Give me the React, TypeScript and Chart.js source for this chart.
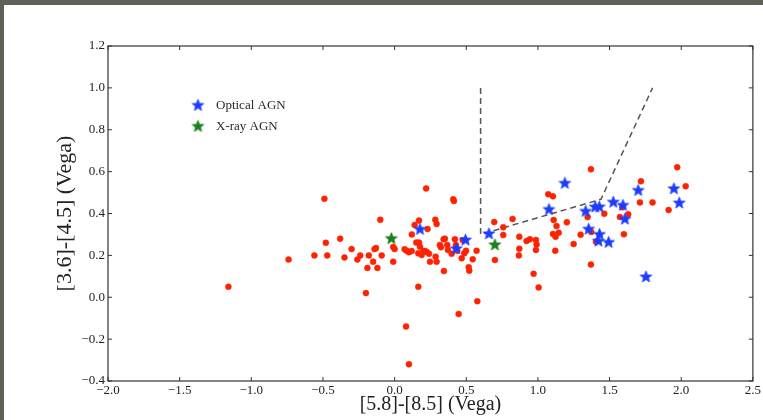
import { useEffect, useRef } from "react";
import { Chart, registerables } from "chart.js";

Chart.register(...registerables);

// ---- data ----
const redX = [
  -1.16, -0.74, -0.56, -0.49, -0.48, -0.47, -0.38, -0.35, -0.30, -0.26, -0.24, -0.20, -0.19, -0.18, -0.15,
  -0.14, -0.13, -0.12, -0.10, -0.09, -0.01, 0.00, -0.01, 0.08, 0.10, 0.22, 0.14, 0.17, 0.23, 0.12,
  0.07, 0.084, 0.10, 0.119, 0.151, 0.17, 0.177, 0.165, 0.189, 0.20, 0.212, 0.224, 0.24, 0.247, 0.284,
  0.293, 0.286, 0.293, 0.316, 0.323, 0.342, 0.351, 0.344, 0.367, 0.372, 0.398, 0.409, 0.414, 0.421, 0.428,
  0.437, 0.468, 0.475, 0.486, 0.498, 0.517, 0.521, 0.545, 0.572, 0.577, 0.447, 0.165, 0.695, 0.758, 0.758,
  0.70, 0.823, 0.87, 0.87, 0.867, 0.921, 0.944, 0.986, 0.991, 0.986, 0.97, 1.005, 1.072, 1.105, 1.11,
  1.13, 1.145, 1.105, 1.123, 1.121, 1.202, 1.249, 1.298, 1.347, 1.372, 1.37, 1.37, 1.405, 1.463, 1.572,
  1.60, 1.63, 1.712, 1.719, 1.80, 1.912, 1.972, 2.031, 1.59,
];
const redY = [
  0.05, 0.18, 0.20, 0.47, 0.26, 0.20, 0.28, 0.19, 0.23, 0.18, 0.20, 0.02, 0.14, 0.20, 0.17,
  0.23, 0.235, 0.14, 0.37, 0.20, 0.24, 0.23, 0.17, -0.14, -0.32, 0.52, 0.345, 0.366, 0.326, 0.30,
  0.229, 0.222, 0.215, 0.221, 0.261, 0.261, 0.241, 0.21, 0.202, 0.221, 0.221, 0.216, 0.208, 0.17, 0.37,
  0.35, 0.194, 0.17, 0.25, 0.239, 0.277, 0.28, 0.125, 0.25, 0.226, 0.208, 0.468, 0.46, 0.277, 0.25,
  0.222, 0.186, 0.273, 0.21, 0.222, 0.143, 0.127, 0.181, 0.222, -0.019, -0.08, 0.05, 0.359, 0.334, 0.297,
  0.178, 0.374, 0.289, 0.232, 0.20, 0.269, 0.277, 0.273, 0.252, 0.226, 0.112, 0.047, 0.492, 0.482, 0.369,
  0.34, 0.308, 0.302, 0.289, 0.222, 0.358, 0.254, 0.299, 0.383, 0.312, 0.611, 0.156, 0.265, 0.399, 0.383,
  0.301, 0.396, 0.453, 0.554, 0.453, 0.417, 0.621, 0.53, 0.43,
];
const blueX = [
  0.177, 0.43, 0.495, 0.658, 1.077, 1.188, 1.333, 1.354, 1.40, 1.428,
  1.43, 1.423, 1.493, 1.526, 1.593, 1.607, 1.70, 1.754, 1.949, 1.986,
];
const blueY = [
  0.326, 0.234, 0.275, 0.305, 0.421, 0.546, 0.412, 0.327, 0.433, 0.433,
  0.302, 0.27, 0.264, 0.456, 0.441, 0.375, 0.512, 0.099, 0.52, 0.452,
];
const greenX = [-0.023, 0.70];
const greenY = [0.282, 0.252];
const wedgeX = [0.6, 0.6, 1.44, 1.8];
const wedgeY = [1.0, 0.3, 0.468, 1.0];

const xTicks = [-2.0, -1.5, -1.0, -0.5, 0.0, 0.5, 1.0, 1.5, 2.0, 2.5];
const xTickLabels = ["\u22122.0", "\u22121.5", "\u22121.0", "\u22120.5", "0.0", "0.5", "1.0", "1.5", "2.0", "2.5"];
const yTicks = [-0.4, -0.2, 0.0, 0.2, 0.4, 0.6, 0.8, 1.0, 1.2];
const yTickLabels = ["\u22120.4", "\u22120.2", "0.0", "0.2", "0.4", "0.6", "0.8", "1.0", "1.2"];

const xTitle = "[5.8]-[8.5] (Vega)";
const yTitle = "[3.6]-[4.5] (Vega)";
const blueLabel = "Optical AGN";
const greenLabel = "X-ray AGN";

const FONT = "'Liberation Serif', 'Times New Roman', serif";

function makeStar(color: string, r: number) {
  const size = Math.ceil(r * 2 + 4);
  const c = document.createElement("canvas");
  c.width = size;
  c.height = size;
  const ctx = c.getContext("2d")!;
  const cx = size / 2;
  const cy = size / 2 + 0.5;
  ctx.beginPath();
  for (let i = 0; i < 10; i++) {
    const rad = i % 2 === 0 ? r : r * 0.42;
    const a = -Math.PI / 2 + (i * Math.PI) / 5;
    const px = cx + rad * Math.cos(a);
    const py = cy + rad * Math.sin(a);
    if (i === 0) ctx.moveTo(px, py);
    else ctx.lineTo(px, py);
  }
  ctx.closePath();
  ctx.fillStyle = color;
  ctx.fill();
  ctx.lineWidth = 0.8;
  ctx.strokeStyle = color;
  ctx.stroke();
  return c;
}

const zip = (xs: number[], ys: number[]) => xs.map((x, i) => ({ x, y: ys[i] }));

export default function App() {
  const ref = useRef<HTMLCanvasElement | null>(null);

  useEffect(() => {
    if (!ref.current) return;
    document.body.style.margin = "0";
    const blueStar = makeStar("#1c3cff", 6.2);
    const greenStar = makeStar("#1b801b", 6.2);

    const framePlugin = {
      id: "frame",
      afterDatasetsDraw(chart: any) {
        const { ctx, chartArea: a, scales } = chart;
        ctx.save();
        ctx.strokeStyle = "#333";
        ctx.lineWidth = 1.2;
        ctx.strokeRect(a.left, a.top, a.right - a.left, a.bottom - a.top);
        const tl = 4;
        ctx.lineWidth = 1;
        ctx.beginPath();
        for (const v of xTicks) {
          const px = scales.x.getPixelForValue(v);
          ctx.moveTo(px, a.bottom);
          ctx.lineTo(px, a.bottom - tl);
          ctx.moveTo(px, a.top);
          ctx.lineTo(px, a.top + tl);
        }
        for (const v of yTicks) {
          const py = scales.y.getPixelForValue(v);
          ctx.moveTo(a.left, py);
          ctx.lineTo(a.left + tl, py);
          ctx.moveTo(a.right, py);
          ctx.lineTo(a.right - tl, py);
        }
        ctx.stroke();
        ctx.restore();
      },
      afterDraw(chart: any) {
        const { ctx } = chart;
        const items = [
          { img: blueStar, text: blueLabel, y: 100 },
          { img: greenStar, text: greenLabel, y: 121 },
        ];
        ctx.save();
        ctx.font = `13px ${FONT}`;
        ctx.fillStyle = "#2a2a2a";
        ctx.textBaseline = "middle";
        ctx.textAlign = "left";
        for (const it of items) {
          ctx.drawImage(it.img, 194 - it.img.width / 2, it.y - it.img.height / 2);
          ctx.fillText(it.text, 212, it.y + 1);
        }
        ctx.restore();
      },
    };

    const chart = new Chart(ref.current, {
      type: "scatter",
      data: {
        datasets: [
          {
            type: "line",
            label: "",
            data: zip(wedgeX, wedgeY),
            borderColor: "#555",
            borderWidth: 1.5,
            borderDash: [6, 4],
            pointRadius: 0,
            fill: false,
            tension: 0,
            order: 4,
          } as any,
          {
            label: "",
            data: zip(redX, redY),
            backgroundColor: "#ff2200",
            borderColor: "#ff2200",
            borderWidth: 0.5,
            pointRadius: 3,
            order: 3,
          },
          {
            label: blueLabel,
            data: zip(blueX, blueY),
            pointStyle: blueStar as any,
            order: 2,
          },
          {
            label: greenLabel,
            data: zip(greenX, greenY),
            pointStyle: greenStar as any,
            order: 1,
          },
        ],
      },
      options: {
        animation: false,
        responsive: false,
        layout: { padding: { top: 41, right: 10, bottom: 0, left: 0 } },
        plugins: { legend: { display: false }, tooltip: { enabled: false } },
        scales: {
          x: {
            type: "linear",
            min: -2,
            max: 2.5,
            afterBuildTicks: (s: any) => {
              s.ticks = xTicks.map((v) => ({ value: v }));
            },
            afterFit: (s: any) => {
              s.height = 39;
            },
            ticks: {
              callback: (_v: any, i: number) => xTickLabels[i],
              font: { family: FONT, size: 13 },
              color: "#222",
              padding: 2,
              maxRotation: 0,
              autoSkip: false,
            },
            grid: { display: false, drawTicks: false },
            border: { display: false },
            title: {
              display: true,
              text: xTitle,
              font: { family: FONT, size: 20 },
              color: "#222",
              padding: { top: 0, bottom: 3 },
            },
          },
          y: {
            type: "linear",
            min: -0.4,
            max: 1.2,
            afterBuildTicks: (s: any) => {
              s.ticks = yTicks.map((v) => ({ value: v }));
            },
            afterFit: (s: any) => {
              s.width = 104;
            },
            ticks: {
              callback: (_v: any, i: number) => yTickLabels[i],
              font: { family: FONT, size: 13 },
              color: "#222",
              padding: 3,
              autoSkip: false,
            },
            grid: { display: false, drawTicks: false },
            border: { display: false },
            title: {
              display: true,
              text: yTitle,
              font: { family: FONT, size: 22 },
              color: "#222",
              padding: { top: 48, bottom: 0 },
            },
          },
        },
      },
      plugins: [framePlugin],
    });
    return () => chart.destroy();
  }, []);

  return (
    <div style={{ position: "fixed", left: 0, top: 0, width: 763, height: 420, background: "#5f6156" }}>
      <div style={{ position: "absolute", left: 4, top: 5, width: 759, height: 415, background: "#fff" }}>
        <canvas ref={ref} width={759} height={415} style={{ display: "block" }} />
      </div>
    </div>
  );
}
